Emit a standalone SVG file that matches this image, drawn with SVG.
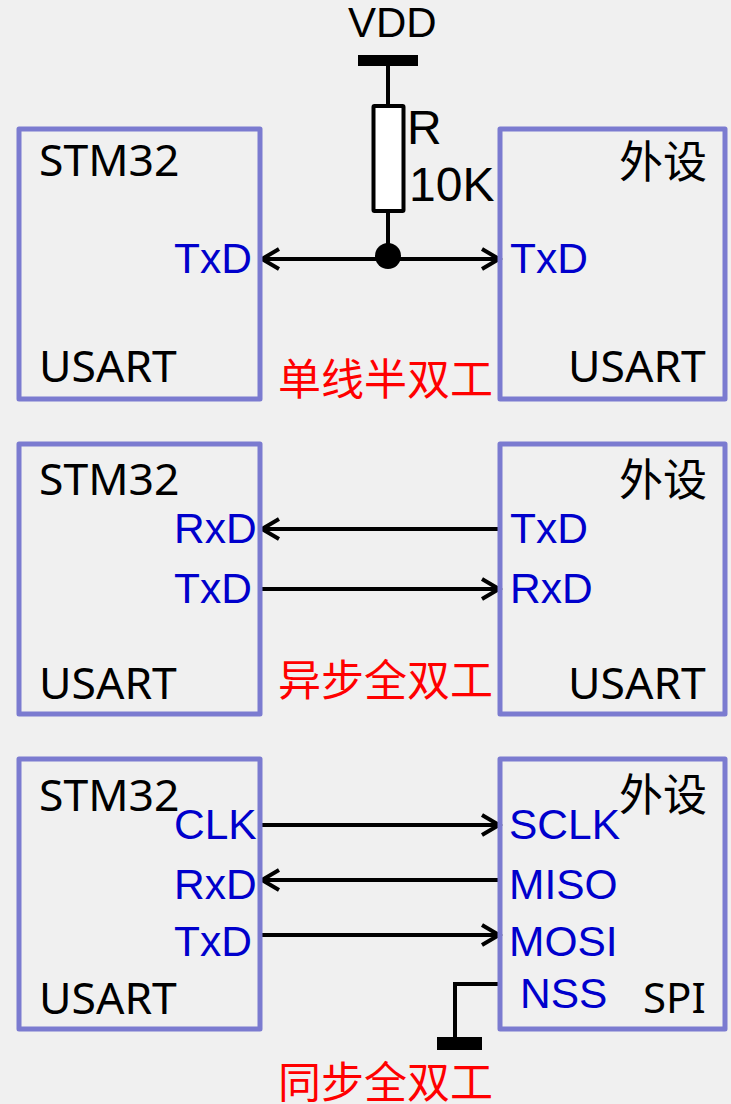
<svg xmlns="http://www.w3.org/2000/svg" width="731" height="1104" viewBox="0 0 731 1104">
<defs>
<style>
text{font-family:"Noto Sans","Noto Sans CJK SC",sans-serif;font-size:44.5px}
.k{fill:#000}
.cn{fill:#000;font-family:"Noto Sans CJK SC",sans-serif;font-size:44px}
.b{fill:#0000cc;font-family:"Liberation Sans",sans-serif;font-size:42.5px}
.r{fill:#ff0000;font-family:"Noto Sans CJK SC",sans-serif;font-size:43px}
.a{font-family:"Liberation Sans",sans-serif;font-size:48px;fill:#000}
.box{fill:none;stroke:#7b7bd0;stroke-width:5;stroke-linejoin:round}
.w{fill:none;stroke:#000;stroke-width:4}
</style>
<marker id="ah" markerUnits="userSpaceOnUse" markerWidth="24" markerHeight="24" refX="19" refY="12" orient="auto-start-reverse" overflow="visible"><path d="M2 2L19 12L2 22" fill="none" stroke="#000" stroke-width="4"/></marker>
</defs>
<rect width="731" height="1104" fill="#f0f0f0"/>
<g id="connectors">
<path class="w" d="M262 259H499" marker-start="url(#ah)" marker-end="url(#ah)"/>
<path class="w" d="M388 66V106M388 211V259"/>
<path class="w" d="M262 529H500" marker-start="url(#ah)"/>
<path class="w" d="M260 589H499" marker-end="url(#ah)"/>
<path class="w" d="M260 825H499" marker-end="url(#ah)"/>
<path class="w" d="M262 880H500" marker-start="url(#ah)"/>
<path class="w" d="M260 935H499" marker-end="url(#ah)"/>
<path d="M500 984H455V1040" fill="none" stroke="#000" stroke-width="4"/>
</g>
<g id="vdd"><rect x="358" y="55" width="60" height="11"/><text class="a" x="348" y="37" style="font-size:42px">VDD</text></g>
<g id="resistor"><rect x="373.500" y="106" width="30" height="105" rx="1" fill="#fff" stroke="#000" stroke-width="4"/><text class="a" x="407" y="144">R</text><text class="a" x="409" y="201">10K</text></g>
<g id="junction"><circle cx="388" cy="256" r="13"/></g>
<g id="gnd"><rect x="437" y="1037" width="45" height="13"/></g>
<g id="stm32-1"><rect class="box" x="19" y="129" width="241" height="270"/><text class="k" x="39" y="176">STM32</text><text class="k" x="39" y="382">USART</text><text class="b" x="174" y="273">TxD</text></g>
<g id="peripheral-1"><rect class="box" x="500" y="129" width="225" height="270"/><text class="cn" x="619" y="178">外设</text><text class="k" x="568" y="382">USART</text><text class="b" x="510" y="273">TxD</text></g>
<g id="stm32-2"><rect class="box" x="19" y="444" width="241" height="270"/><text class="k" x="39" y="495">STM32</text><text class="k" x="39" y="699">USART</text><text class="b" x="174" y="543">RxD</text><text class="b" x="174" y="603">TxD</text></g>
<g id="peripheral-2"><rect class="box" x="500" y="444" width="225" height="270"/><text class="cn" x="619" y="496">外设</text><text class="k" x="568" y="699">USART</text><text class="b" x="510" y="543">TxD</text><text class="b" x="510" y="603">RxD</text></g>
<g id="stm32-3"><rect class="box" x="19" y="759" width="241" height="270"/><text class="k" x="39" y="811">STM32</text><text class="k" x="39" y="1014">USART</text><text class="b" x="174" y="839">CLK</text><text class="b" x="174" y="899">RxD</text><text class="b" x="174" y="956">TxD</text></g>
<g id="peripheral-3"><rect class="box" x="500" y="759" width="225" height="270"/><text class="cn" x="619" y="811">外设</text><text class="b" x="509" y="839">SCLK</text><text class="b" x="509" y="899">MISO</text><text class="b" x="509" y="956">MOSI</text><text class="b" x="520" y="1008">NSS</text><text class="k" x="643" y="1013" style="font-size:42px">SPI</text></g>
<g id="labels"><text class="r" x="278" y="395">单线半双工</text><text class="r" x="278" y="696">异步全双工</text><text class="r" x="278" y="1098">同步全双工</text></g>
</svg>
